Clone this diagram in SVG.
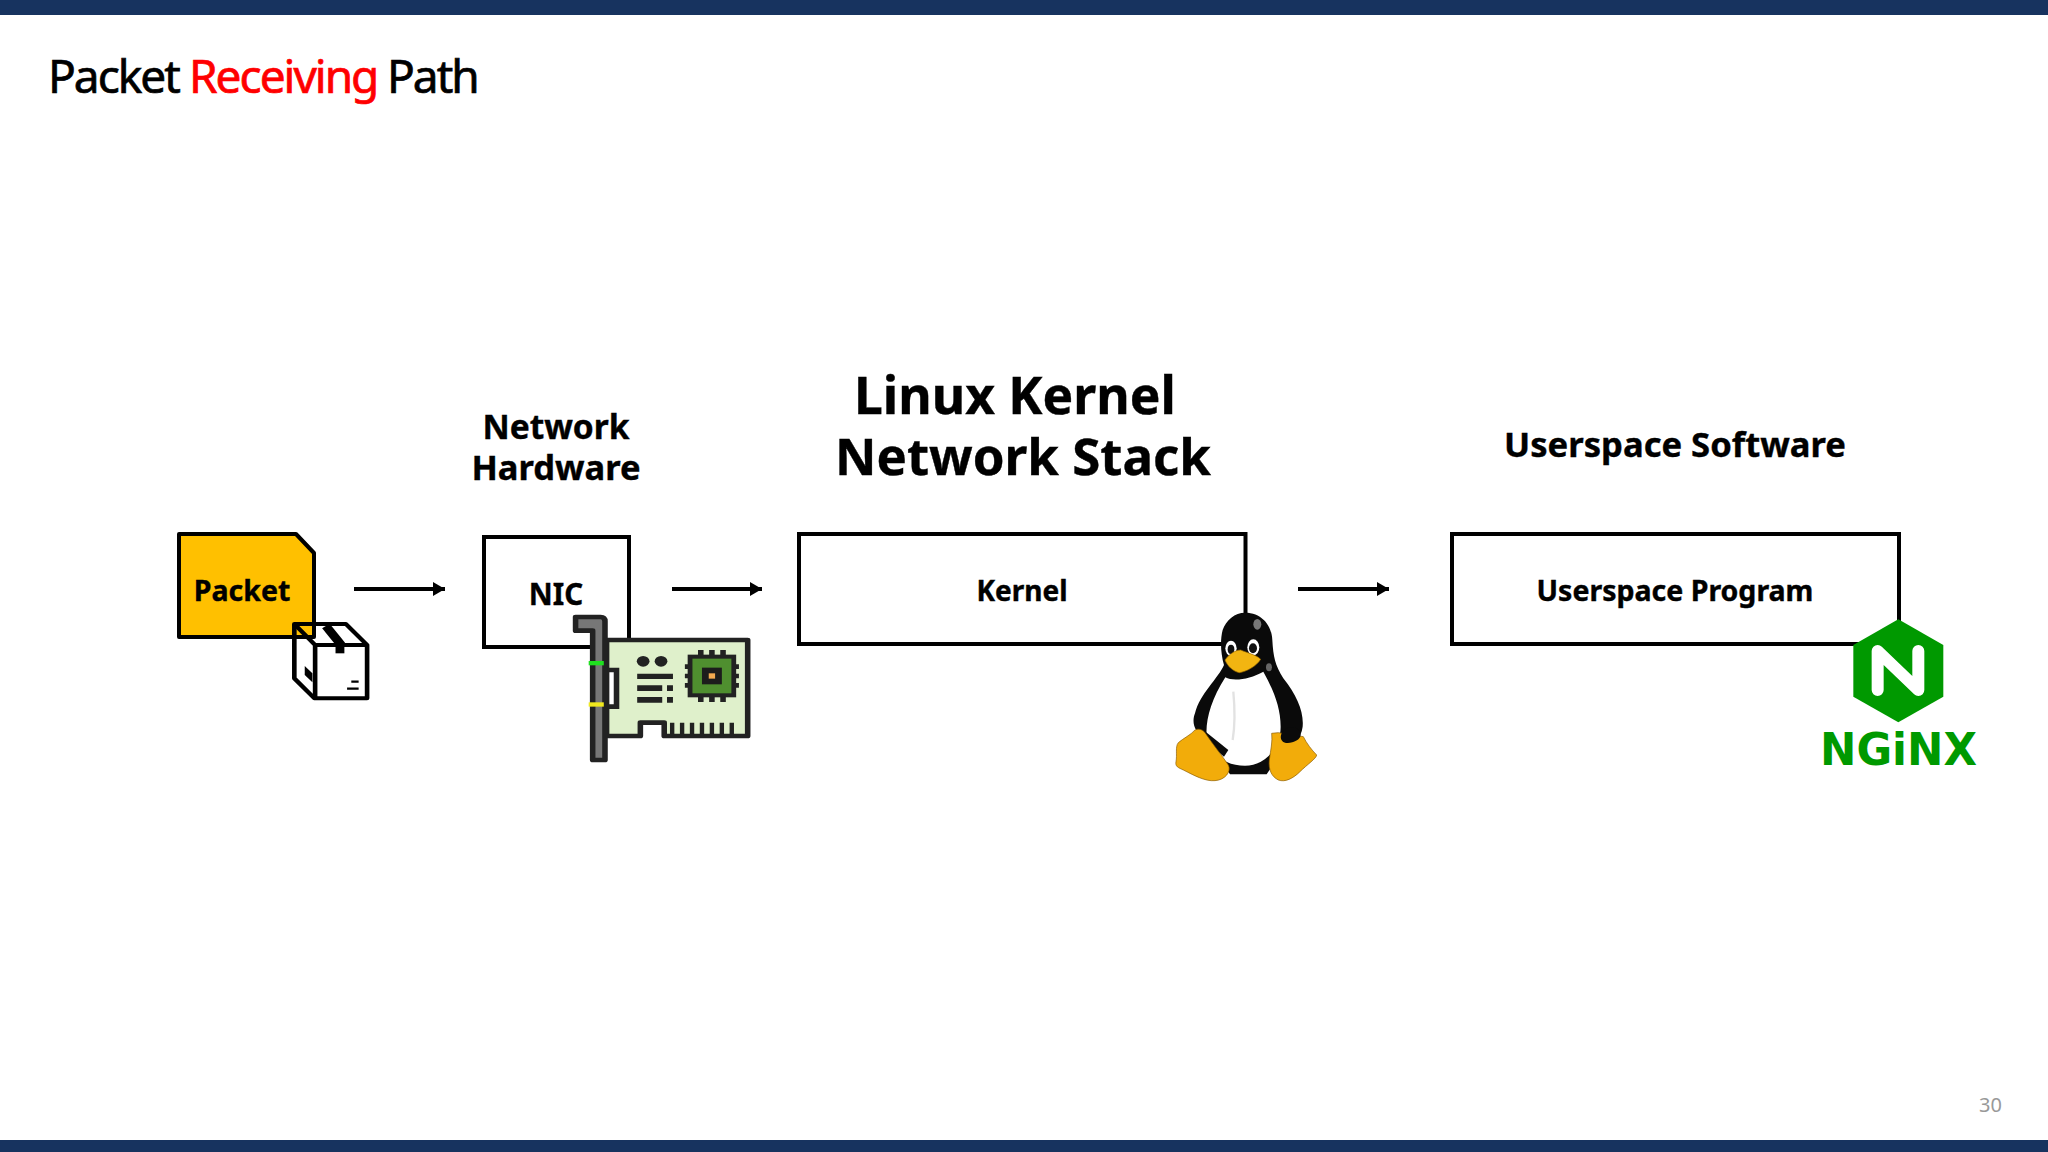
<svg xmlns="http://www.w3.org/2000/svg" width="2048" height="1152" viewBox="0 0 2048 1152">
<style>
text{font-family:"Noto Sans","Liberation Sans",sans-serif}
.b{font-weight:700;fill:#000;text-anchor:middle;stroke:#000;stroke-width:.4}
.box{fill:#fff;stroke:#000;stroke-width:4}
.conn{fill:none;stroke:#000;stroke-width:4}
.k{fill:#222;stroke:none}
.kl{fill:none;stroke:#000;stroke-width:12;stroke-linejoin:round}
</style>
<defs>
<marker id="arrow" markerUnits="userSpaceOnUse" markerWidth="12" markerHeight="14" refX="12" refY="7" orient="auto"><path d="M0 0L12 7L0 14Z" fill="#000"/></marker>
</defs>
<rect width="2048" height="1152" fill="#fff"/>
<rect id="top-bar" width="2048" height="15" fill="#17335f"/>
<rect id="bottom-bar" y="1140" width="2048" height="12" fill="#17335f"/>
<text id="title" y="93" font-size="46" letter-spacing="-2" stroke-width=".7"><tspan x="48" fill="#000" stroke="#000">Packet</tspan><tspan x="189" fill="#f00" stroke="#f00">Receiving</tspan><tspan x="387" fill="#000" stroke="#000">Path</tspan></text>
<text id="hdr-hw" class="b"><tspan x="556" y="439" font-size="33.500">Network</tspan><tspan x="556" y="480" font-size="34.500">Hardware</tspan></text>
<text id="hdr-kernel" class="b"><tspan x="1015" y="414" font-size="51.500">Linux Kernel</tspan><tspan x="1023" y="475" font-size="51">Network Stack</tspan></text>
<text id="hdr-user" class="b" font-size="34.600" x="1675" y="456.500">Userspace Software</text>
<g id="connectors">
<path class="conn" d="M354 589H445" marker-end="url(#arrow)"/>
<path class="conn" d="M672 589H762" marker-end="url(#arrow)"/>
<path class="conn" d="M1298 589H1389" marker-end="url(#arrow)"/>
</g>
<g id="packet">
<path d="M179 534H296L314 553V637H179Z" fill="#ffc000" stroke="#000" stroke-width="4" stroke-linejoin="round"/>
<text class="b" font-size="28.500" x="242" y="601">Packet</text>
<g transform="translate(164.200 500) scale(.385 .3333)" class="kl">
<path d="M338 372H472L527 435V595H390L338 535Z"/>
<path d="M338 372L392 435H527M392 435V595"/>
<path d="M420 378L460 435" stroke-width="24"/>
<rect x="445" y="435" width="23" height="25" fill="#000" stroke="none"/>
<path d="M365 498L385 520V547L365 525Z" fill="#000" stroke="none"/>
<path d="M486 545H505M475 566H505" stroke-width="7"/>
</g>
</g>
<g id="nic">
<rect class="box" x="484" y="537" width="145" height="110"/>
<text class="b" font-size="29.500" x="556" y="605">NIC</text>
</g>
<g id="nic-card" transform="translate(157.400 500) scale(.3975 .3333)">
<path d="M1130 420H1485V708H1275V668H1215V708H1130Z" fill="#dff0cb" stroke="#222" stroke-width="14" stroke-linejoin="round"/>
<path d="M1295 668V708M1320 668V708M1345 668V708M1370 668V708M1395 668V708M1420 668V708M1445 668V708" stroke="#222" stroke-width="11"/>
<path d="M1130 510H1155V620H1130Z" fill="#fff" stroke="#222" stroke-width="14"/>
<path d="M1052 351H1115Q1126 351 1126 364V780H1095V392H1052Z" fill="#777" stroke="#222" stroke-width="14" stroke-linejoin="round"/>
<rect x="1085" y="483" width="38" height="13" fill="#1fe01f"/>
<rect x="1085" y="607" width="38" height="13" fill="#f0e81e"/>
<circle class="k" cx="1222" cy="484" r="16"/><circle class="k" cx="1267" cy="484" r="16"/>
<path class="k" d="M1207 521H1297V537H1207ZM1207 556H1270V573H1207ZM1282 556H1297V573H1282ZM1207 591H1270V608H1207ZM1282 591H1297V608H1282Z"/>
<path d="M1367 450V606M1395 450V606M1423 450V606M1327 500H1463M1327 528H1463M1327 556H1463" stroke="#222" stroke-width="14"/>
<rect x="1340" y="470" width="110" height="116" fill="#4f8f2f" stroke="#222" stroke-width="12"/>
<rect x="1370" y="503" width="50" height="50" fill="#1c1c1c"/>
<rect x="1387" y="520" width="16" height="16" fill="#f2a950"/>
</g>
<g id="kernel">
<rect class="box" x="799" y="534" width="446.500" height="110"/>
<text class="b" font-size="28" x="1022" y="601">Kernel</text>
</g>
<g id="tux" transform="translate(1150 590) scale(.3333)">
<path d="M285 68C335 68 365 105 367 150C370 200 375 225 400 265C440 315 462 365 458 410C455 445 420 480 385 500L350 553H240L170 450C130 425 125 395 135 370C150 310 205 265 222 225C212 190 210 150 218 120C228 90 255 68 285 68Z" fill="#0a0a0a"/>
<path d="M226 262C250 275 300 268 340 245C368 295 392 350 392 410C392 470 350 527 285 527C240 527 200 510 175 460C160 420 175 340 226 262Z" fill="#fff"/>
<path d="M250 305Q258 390 248 450" fill="none" stroke="#e2e2e2" stroke-width="7"/>
<path d="M150 412L235 480L222 500L140 430Z" fill="#0a0a0a"/>
<path d="M135 420C145 415 158 418 165 428C190 465 215 495 235 525C245 545 225 570 195 572C165 575 130 555 100 540C85 533 75 530 78 515C82 495 75 470 85 458C100 445 122 435 135 420Z" fill="#f2ac0a" stroke="#8a5a00" stroke-width="2"/>
<path d="M365 430L385 428L460 440C470 460 485 480 500 495C500 505 470 525 450 545C430 565 405 578 385 570C365 560 355 540 358 510C362 480 368 455 365 430Z" fill="#f2ac0a" stroke="#8a5a00" stroke-width="2"/>
<path d="M410 415C430 405 450 415 452 435C452 450 425 462 405 458C390 455 385 430 410 415Z" fill="#0a0a0a"/>
<ellipse cx="243" cy="175" rx="17" ry="23" fill="#fff"/>
<ellipse cx="310" cy="172" rx="18" ry="24" fill="#fff"/>
<ellipse cx="243" cy="178" rx="10" ry="14" fill="#111"/>
<ellipse cx="309" cy="175" rx="12" ry="15" fill="#111"/>
<path d="M225 210C235 195 255 180 272 180C295 190 320 195 332 208C320 228 290 245 268 248C250 245 232 228 225 210Z" fill="#f2b511" stroke="#9a6a00" stroke-width="2"/>
<ellipse cx="322" cy="103" rx="12" ry="16" fill="#777"/>
<ellipse cx="357" cy="232" rx="9" ry="12" fill="#666"/>
</g>
<g id="userspace">
<rect class="box" x="1452" y="534" width="447" height="110"/>
<text class="b" font-size="28.500" x="1675" y="601">Userspace Program</text>
</g>
<g id="nginx" transform="translate(1800 600) scale(.3333)">
<path d="M295 58L430 135V290L295 367L160 290V135Z" fill="#009900"/>
<path d="M233 270V153L355 270V153" fill="none" stroke="#fff" stroke-width="36" stroke-linecap="round" stroke-linejoin="round"/>
</g>
<text id="nginx-word" x="1820" y="765" font-size="44" font-weight="700" fill="#009900" textLength="157" lengthAdjust="spacingAndGlyphs" style="font-family:'DejaVu Sans',sans-serif">NGiNX</text>
<text id="page-number" x="1979" y="1112" font-size="20" fill="#999">30</text>
</svg>
